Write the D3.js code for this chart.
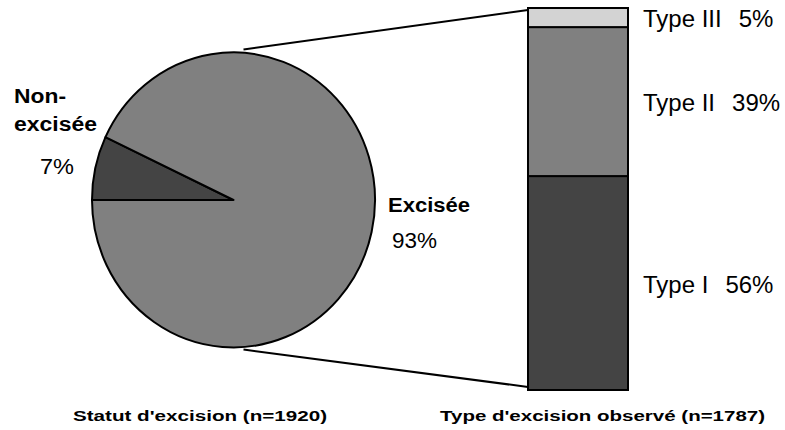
<!DOCTYPE html>
<html>
<head>
<meta charset="utf-8">
<script src="https://cdn.jsdelivr.net/npm/d3@7"></script>
<style>
  html, body { margin: 0; padding: 0; background: #fff; }
  svg { display: block; }
  text { font-family: "Liberation Sans", Arial, sans-serif; fill: #000; }
</style>
</head>
<body>
<svg id="chart" width="785" height="430"></svg>
<script>
// ---- data ----
const pieCategories = ["Non-excisée", "Excisée"];
const pieValues = [7, 93];
const pieLabelLines = [["Non-", "excisée"], ["Excisée"]];
const pieColors = ["#444444", "#808080"];

const barCategories = ["Type I", "Type II", "Type III"];
const barValues = [56, 39, 5];
const barColors = ["#444444", "#808080", "#d3d3d3"];

const titles = ["Statut d'excision (n=1920)", "Type d'excision observé (n=1787)"];

// ---- layout ----
const svg = d3.select("#chart");
const cx = 233.5, cy = 200, rx = 141.5, ry = 147.5;

// pie (ellipse drawn through a scaled unit arc)
const pie = d3.pie().sort(null).value(d => d)
  .startAngle(1.5 * Math.PI).endAngle(3.5 * Math.PI);
const arcs = pie(pieValues);
const arc = d3.arc().innerRadius(0).outerRadius(1);

svg.append("g")
  .attr("transform", `translate(${cx},${cy}) scale(${rx},${ry})`)
  .selectAll("path")
  .data(arcs)
  .join("path")
  .attr("d", arc)
  .attr("fill", (d, i) => pieColors[i])
  .attr("stroke", "#000")
  .attr("stroke-width", 2)
  .attr("stroke-linejoin", "round")
  .attr("vector-effect", "non-scaling-stroke");

// stacked bar
const barX = 528, barW = 100;
const y = d3.scaleLinear().domain([0, d3.sum(barValues)]).range([390, 8]);
const stack = [];
let acc = 0;
barValues.forEach((v, i) => { stack.push({ v, y0: acc, y1: acc + v, i }); acc += v; });

svg.append("g").selectAll("rect")
  .data(stack)
  .join("rect")
  .attr("x", barX)
  .attr("width", barW)
  .attr("y", d => y(d.y1))
  .attr("height", d => y(d.y0) - y(d.y1))
  .attr("fill", d => barColors[d.i])
  .attr("stroke", "#000")
  .attr("stroke-width", 2);

// connector lines
svg.append("line")
  .attr("x1", cx + 10).attr("y1", cy - ry - 3)
  .attr("x2", barX).attr("y2", y(100) + 2)
  .attr("stroke", "#000").attr("stroke-width", 2);
svg.append("line")
  .attr("x1", cx + 10).attr("y1", cy + ry + 2)
  .attr("x2", barX).attr("y2", y(0) - 3)
  .attr("stroke", "#000").attr("stroke-width", 2);

// bar labels
const lblX = 643;
stack.forEach(d => {
  const ym = (y(d.y0) + y(d.y1)) / 2 + 1;
  const t = svg.append("text")
    .attr("x", lblX).attr("y", ym)
    .attr("dominant-baseline", "central")
    .attr("font-size", 24)
    .text(barCategories[d.i]);
  const w = t.node().getComputedTextLength();
  svg.append("text")
    .attr("x", lblX + w + 17).attr("y", ym)
    .attr("dominant-baseline", "central")
    .attr("font-size", 24)
    .text(d.v + "%");
});

// pie labels
const nonX = 14;
svg.append("text").attr("x", nonX).attr("y", 103)
  .attr("font-size", 20).attr("font-weight", "bold")
  .attr("textLength", 52).attr("lengthAdjust", "spacingAndGlyphs")
  .text(pieLabelLines[0][0]);
svg.append("text").attr("x", nonX).attr("y", 131)
  .attr("font-size", 20).attr("font-weight", "bold")
  .attr("textLength", 83).attr("lengthAdjust", "spacingAndGlyphs")
  .text(pieLabelLines[0][1]);
svg.append("text").attr("x", 40).attr("y", 174)
  .attr("font-size", 22)
  .attr("textLength", 34).attr("lengthAdjust", "spacingAndGlyphs")
  .text(pieValues[0] + "%");

svg.append("text").attr("x", 388).attr("y", 212)
  .attr("font-size", 20).attr("font-weight", "bold")
  .attr("textLength", 82).attr("lengthAdjust", "spacingAndGlyphs")
  .text(pieLabelLines[1][0]);
svg.append("text").attr("x", 392).attr("y", 248)
  .attr("font-size", 22)
  .attr("textLength", 45).attr("lengthAdjust", "spacingAndGlyphs")
  .text(pieValues[1] + "%");

// bottom titles
svg.append("text").attr("x", 73).attr("y", 421)
  .attr("font-size", 14).attr("font-weight", "bold")
  .attr("textLength", 254).attr("lengthAdjust", "spacingAndGlyphs")
  .text(titles[0]);
svg.append("text").attr("x", 440).attr("y", 421)
  .attr("font-size", 14).attr("font-weight", "bold")
  .attr("textLength", 325).attr("lengthAdjust", "spacingAndGlyphs")
  .text(titles[1]);
</script>
</body>
</html>
